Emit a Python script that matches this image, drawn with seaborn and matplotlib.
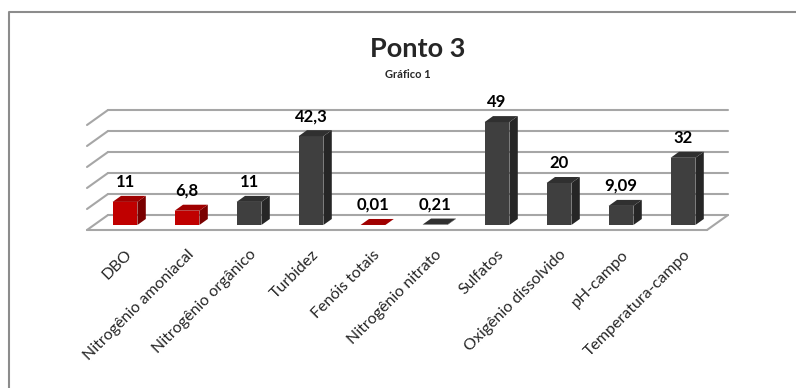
import matplotlib
matplotlib.use("Agg")
import matplotlib.pyplot as plt
import seaborn as sns
from matplotlib.patches import Polygon
from matplotlib.lines import Line2D

categories = ["DBO", "Nitrogênio amoniacal", "Nitrogênio orgânico", "Turbidez",
              "Fenóis totais", "Nitrogênio nitrato", "Sulfatos",
              "Oxigênio dissolvido", "pH-campo", "Temperatura-campo"]
values = [11, 6.8, 11, 42.3, 0.01, 0.21, 49, 20, 9.09, 32]
red_items = ["DBO", "Nitrogênio amoniacal", "Fenóis totais"]
grid_values = [0, 10, 20, 30, 40, 50]
title = "Ponto 3"
subtitle = "Gráfico 1"

sns.set_style("white")
plt.rcParams["font.family"] = ["Lato", "DejaVu Sans"]

W, H = 796, 388
fig = plt.figure(figsize=(W / 100, H / 100), dpi=100)

# axes box in pixels, chosen so data units map to the picture's pixels
ax_l, ax_r, ax_t, ax_b = 60, 760, 70, 235
ax = fig.add_axes([ax_l / W, 1 - ax_b / H, (ax_r - ax_l) / W, (ax_b - ax_t) / H])

px_x = 1 / 62.0    # one category step = 62 px
px_y = 1 / 2.1     # 10 units = 21 px
x0_px, y0_px = 125, 225

def shift(d):
    # oblique depth offset, d given in vertical pixels
    return d * 1.4 * px_x, d * px_y

front = {c: ("#c00000" if c in red_items else "#3f3f3f") for c in categories}
top_c = {c: ("#a00000" if c in red_items else "#303030") for c in categories}
side_c = {c: ("#7a0000" if c in red_items else "#262626") for c in categories}

sns.barplot(x=categories, y=values, hue=categories, palette=front, width=0.4,
            saturation=1, legend=False, linewidth=0, ax=ax, zorder=3)

ax.set_xlim((ax_l - x0_px) * px_x, (ax_r - x0_px) * px_x)
ax.set_ylim((y0_px - ax_b) * px_y, (y0_px - ax_t) * px_y)

# back wall, left side and floor
grid_col = "#a6a6a6"
dxw, dyw = shift(10)
dxf, dyf = shift(-5)
left, right = -0.5, len(categories) - 0.5
for v in grid_values:
    ax.plot([left + dxw, right + dxw], [v + dyw, v + dyw], color=grid_col, lw=1.5, zorder=1)
    ax.plot([left + dxf, left + dxw], [v + dyf, v + dyw], color=grid_col, lw=1.5, zorder=1)
ax.plot([left + dxf, right + dxf], [dyf, dyf], color=grid_col, lw=1.5, zorder=1)
ax.plot([right + dxf, right + dxw], [dyf, dyw], color=grid_col, lw=1.5, zorder=1)

# 3d faces and value labels
dx, dy = shift(6)
for p, c, v in zip(ax.patches, categories, values):
    x, w, h = p.get_x(), p.get_width(), p.get_height()
    top = [(x, h), (x + w, h), (x + w + dx, h + dy), (x + dx, h + dy)]
    side = [(x + w, 0), (x + w + dx, dy), (x + w + dx, h + dy), (x + w, h)]
    ax.add_patch(Polygon(side, closed=True, color=side_c[c], lw=0, zorder=3))
    ax.add_patch(Polygon(top, closed=True, color=top_c[c], lw=0, zorder=3))
    lab = f"{v:g}".replace(".", ",")
    ax.text(x + w / 2, h + dy + 6 * px_y, lab, ha="center", va="bottom",
            fontsize=12, fontweight="bold", color="black")

sns.despine(ax=ax, left=True, bottom=True)
ax.set_yticks([])
ax.set_xticks(range(len(categories)))
ax.set_xticklabels(categories, rotation=45, ha="right", va="top",
                   rotation_mode="anchor", fontsize=11.5)
ax.tick_params(axis="x", length=0, pad=9)
ax.set_xlabel("")
ax.set_ylabel("")

fig.text(418 / W, 1 - 57 / H, title, ha="center", va="baseline",
         fontsize=19.5, fontweight="bold")
fig.text(408 / W, 1 - 78 / H, subtitle, ha="center", va="baseline",
         fontsize=8, fontweight="bold")

# chart frame (top and left edges visible)
fig.add_artist(Line2D([9 / W, 9 / W, 1], [0, 1 - 12 / H, 1 - 12 / H],
                      color="#8c8c8c", lw=1.5, transform=fig.transFigure))

fig.savefig("out.png", dpi=100)
